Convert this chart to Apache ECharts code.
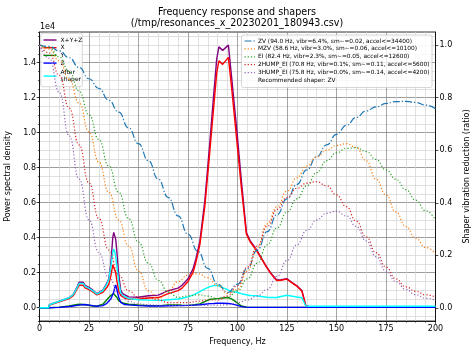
<!DOCTYPE html>
<html><head><meta charset="utf-8">
<script src="https://cdn.jsdelivr.net/npm/echarts@6/dist/echarts.min.js"></script>
<style>html,body{margin:0;padding:0;background:#fff}#c{width:474px;height:355px}</style>
</head><body><div id="c"></div>
<script>
// ---------- data ----------
const titleLines = ['Frequency response and shapers', '(/tmp/resonances_x_20230201_180943.csv)'];
const psdScaleText = '1e4';

// PSD (units of 1e4)
const psdFreq = [0,4.5,5,10,15,17,19,20,21,22,
 23,25,27,29,30,32,34,35,36,37,
 37.5,38,38.5,39,40,41,42,43,45,50,
 55,60,62,65,70,72,75,77.5,79,81,
 83.5,86,88,89.5,90.6,92.5,95.4,97,99.6,102,
 104.5,106.3,109.7,112,114.8,117,119.8,122,124.9,127,
 130,132.5,134.5,136,150,175,200];
const psdXYZ = [0,0,0.017,0.037,0.057,0.075,0.12,0.145,0.153,0.146,
 0.128,0.116,0.1,0.08,0.077,0.1,0.14,0.165,0.25,0.4,
 0.43,0.425,0.39,0.33,0.19,0.1,0.08,0.07,0.062,0.06,
 0.068,0.072,0.082,0.097,0.112,0.128,0.165,0.22,0.28,0.38,
 0.61,0.94,1.22,1.42,1.49,1.47,1.5,1.32,1.02,0.72,
 0.43,0.385,0.33,0.285,0.232,0.195,0.158,0.16,0.166,0.148,
 0.125,0.098,0.012,0.007,0.006,0.005,0.005];
const psdX = [0,0,0.015,0.034,0.052,0.068,0.108,0.128,0.135,0.128,
 0.113,0.104,0.09,0.073,0.07,0.088,0.115,0.135,0.18,0.245,
 0.255,0.235,0.2,0.16,0.095,0.07,0.062,0.055,0.05,0.048,
 0.055,0.058,0.066,0.08,0.098,0.112,0.15,0.2,0.26,0.36,
 0.58,0.89,1.15,1.34,1.41,1.39,1.43,1.26,0.96,0.68,
 0.42,0.378,0.325,0.282,0.229,0.192,0.155,0.157,0.163,0.146,
 0.123,0.096,0.01,0.006,0.005,0.004,0.004];
const psdY = [0,0,0.001,0.003,0.01,0.014,0.018,0.02,0.02,0.019,
 0.017,0.014,0.01,0.009,0.01,0.02,0.045,0.058,0.07,0.078,
 0.08,0.075,0.07,0.06,0.04,0.032,0.027,0.024,0.02,0.015,
 0.012,0.012,0.013,0.015,0.015,0.014,0.013,0.015,0.018,0.022,
 0.035,0.048,0.05,0.052,0.053,0.055,0.058,0.05,0.03,0.01,
 0.003,0.002,0.002,0.002,0.002,0.002,0.002,0.002,0.002,0.002,
 0.002,0.002,0.002,0.002,0.002,0.002,0.002];
const psdZ = [0,0,0.001,0.002,0.007,0.01,0.013,0.015,0.016,0.017,
 0.018,0.015,0.011,0.008,0.008,0.012,0.025,0.035,0.05,0.075,
 0.09,0.115,0.13,0.12,0.06,0.03,0.022,0.018,0.016,0.012,
 0.01,0.01,0.01,0.011,0.012,0.012,0.013,0.014,0.015,0.017,
 0.02,0.023,0.024,0.025,0.025,0.025,0.024,0.022,0.015,0.006,
 0.003,0.002,0.002,0.002,0.002,0.002,0.002,0.002,0.002,0.002,
 0.002,0.002,0.002,0.002,0.002,0.002,0.002];
const psdAfter = [0,0,0.017,0.037,0.057,0.074,0.115,0.138,0.145,0.139,
 0.122,0.111,0.096,0.078,0.075,0.098,0.135,0.16,0.23,0.315,
 0.335,0.32,0.29,0.245,0.15,0.085,0.07,0.062,0.052,0.045,
 0.043,0.042,0.042,0.045,0.05,0.054,0.062,0.072,0.08,0.092,
 0.108,0.12,0.126,0.127,0.125,0.115,0.1,0.094,0.088,0.08,
 0.074,0.07,0.068,0.064,0.06,0.058,0.058,0.064,0.071,0.067,
 0.061,0.057,0.01,0.008,0.008,0.008,0.008];

// Shaper vibration reduction ratio
const shaperFreq = [0,5,10,15,20,25,30,35,40,45,50,55,60,65,70,75,80,85,90,95,100,
 105,110,115,120,125,130,135,140,145,150,155,160,165,170,175,180,185,190,195,200];
const zvVals = [1.0,0.995,0.978,0.952,0.915,0.872,0.835,0.79,0.745,0.685,0.625,0.56,0.49,0.42,0.35,0.28,0.215,0.15,0.09,0.058,0.09,
 0.15,0.22,0.29,0.355,0.415,0.47,0.525,0.575,0.62,0.66,0.695,0.725,0.75,0.765,0.778,0.785,0.786,0.782,0.772,0.758];
const mzvVals = [1.0,0.985,0.94,0.87,0.78,0.67,0.555,0.44,0.335,0.235,0.14,0.065,0.035,0.065,0.1,0.125,0.13,0.115,0.085,0.055,0.07,
 0.14,0.23,0.32,0.385,0.445,0.495,0.54,0.575,0.6,0.618,0.625,0.61,0.56,0.49,0.43,0.365,0.31,0.265,0.23,0.206];
const eiVals = [1.0,0.99,0.955,0.9,0.825,0.735,0.64,0.54,0.44,0.34,0.25,0.17,0.105,0.06,0.04,0.045,0.05,0.045,0.035,0.04,0.065,
 0.11,0.17,0.24,0.305,0.365,0.415,0.465,0.515,0.56,0.59,0.607,0.61,0.595,0.565,0.525,0.49,0.45,0.41,0.37,0.333];
const hump2Vals = [1.0,0.97,0.885,0.76,0.62,0.475,0.34,0.22,0.125,0.065,0.04,0.04,0.03,0.02,0.02,0.02,0.025,0.03,0.03,0.045,0.085,
 0.155,0.235,0.31,0.375,0.42,0.455,0.475,0.48,0.465,0.43,0.385,0.33,0.27,0.21,0.155,0.11,0.08,0.063,0.05,0.041];
const hump3Vals = [1.0,0.95,0.82,0.655,0.49,0.335,0.21,0.115,0.055,0.025,0.015,0.012,0.01,0.01,0.01,0.01,0.01,0.01,0.01,0.012,0.02,
 0.03,0.045,0.07,0.12,0.18,0.24,0.295,0.335,0.36,0.368,0.35,0.31,0.255,0.195,0.14,0.1,0.07,0.05,0.037,0.029];

const psdNames = ['X+Y+Z', 'X', 'Y', 'Z', 'After\nshaper'];
const psdColors = ['#800080', '#ff0000', '#008000', '#0000ff', '#00ffff'];
const shaperNames = [
 'ZV (94.0 Hz, vibr=6.4%, sm~=0.02, accel<=34400)',
 'MZV (58.6 Hz, vibr=3.0%, sm~=0.06, accel<=10100)',
 'EI (82.4 Hz, vibr=2.3%, sm~=0.05, accel<=12600)',
 '2HUMP_EI (70.8 Hz, vibr=0.1%, sm~=0.11, accel<=5600)',
 '3HUMP_EI (75.8 Hz, vibr=0.0%, sm~=0.14, accel<=4200)'
];
const shaperColors = ['#1f77b4', '#ff7f0e', '#2ca02c', '#d62728', '#9467bd'];
const recommendedText = 'Recommended shaper: ZV';
const xLabel = 'Frequency, Hz';
const yLeftLabel = 'Power spectral density';
const yRightLabel = 'Shaper vibration reduction (ratio)';

// ---------- chart ----------
const FONT = 'DejaVu Sans';
const pairs = (fx, vy) => fx.map((f, i) => [f, vy[i]]);
const psdSeriesData = [psdXYZ, psdX, psdY, psdZ, psdAfter];
const shaperSeriesData = [zvVals, mzvVals, eiVals, hump2Vals, hump3Vals];
const DASHDOT = [7, 2, 1.3, 2], DOTTED = [1.2, 2];

const series = [];
psdSeriesData.forEach((arr, i) => {
  series.push({
    name: psdNames[i], type: 'line', xAxisIndex: 0, yAxisIndex: 1,
    data: pairs(psdFreq, arr), symbol: 'none', showSymbol: false, smooth: false,
    silent: true, z: 2,
    lineStyle: {color: psdColors[i], width: 1.4}
  });
});
shaperSeriesData.forEach((arr, i) => {
  series.push({
    name: shaperNames[i], type: 'line', xAxisIndex: 0, yAxisIndex: 2,
    data: pairs(shaperFreq, arr), symbol: 'none', showSymbol: false, smooth: true,
    smoothMonotone: 'x', silent: true, z: 3,
    lineStyle: {color: shaperColors[i], width: 1.2, type: i === 0 ? DASHDOT : DOTTED}
  });
});

// ---------- legends (graphic) ----------
const graphics = [];
// left legend (below shaper curves, like matplotlib's twin axes)
graphics.push({type: 'rect', z: 2, silent: true,
  shape: {x: 40.8, y: 33.2, width: 41.5, height: 53.5, r: 2},
  style: {fill: 'rgba(255,255,255,0.8)', stroke: '#cccccc', lineWidth: 0.8}});
const leftRows = [40, 47.7, 55.4, 63.1, 76.1];
psdNames.forEach((n, i) => {
  const y = leftRows[i];
  graphics.push({type: 'line', z: 2, silent: true, shape: {x1: 43.5, y1: y, x2: 56.5, y2: y},
    style: {stroke: psdColors[i], lineWidth: 1.4}});
  graphics.push({type: 'text', z: 2, silent: true, x: 60.5, y: y,
    style: {text: n, font: '6px "DejaVu Sans"', fill: '#000', verticalAlign: 'middle', align: 'left', lineHeight: 7.6}});
});
// right legend
graphics.push({type: 'rect', z: 10, silent: true,
  shape: {x: 241.5, y: 35, width: 190.5, height: 52.5, r: 2},
  style: {fill: 'rgba(255,255,255,0.8)', stroke: '#cccccc', lineWidth: 0.8}});
const rightRows = [41, 48.9, 56.8, 64.7, 72.6, 80.5];
const rightFont = '5.85px "DejaVu Sans"';
shaperNames.forEach((n, i) => {
  const y = rightRows[i];
  graphics.push({type: 'line', z: 10, silent: true, shape: {x1: 244.5, y1: y, x2: 255, y2: y},
    style: {stroke: shaperColors[i], lineWidth: 1.2, lineDash: i === 0 ? DASHDOT : DOTTED}});
  graphics.push({type: 'text', z: 10, silent: true, x: 258, y: y,
    style: {text: n, font: rightFont, fill: '#000', verticalAlign: 'middle', align: 'left'}});
});
graphics.push({type: 'text', z: 10, silent: true, x: 258, y: rightRows[5],
  style: {text: recommendedText, font: rightFont, fill: '#000', verticalAlign: 'middle', align: 'left'}});
graphics.push({type: 'text', z: 10, silent: true, x: 40, y: 22.5,
  style: {text: psdScaleText, font: '8px "DejaVu Sans"', fill: '#000'}});

const axisText = {fontFamily: FONT, fontSize: 8, color: '#000'};
const tickFmt = v => (Math.abs(v * 5 - Math.round(v * 5)) < 1e-6 ? v.toFixed(1) : '');
const chart = echarts.init(document.getElementById('c'), null, {renderer: 'canvas', width: 474, height: 355});
chart.setOption({
  animation: false,
  backgroundColor: '#ffffff',
  textStyle: {fontFamily: FONT},
  title: {text: titleLines.join('\n'), left: 'center', top: 7, padding: 0,
    textStyle: {fontFamily: FONT, fontSize: 9.6, fontWeight: 'normal', color: '#000', lineHeight: 11.3}},
  grid: {left: 39.5, top: 32, width: 396, height: 289, show: true, borderColor: '#000', borderWidth: 0.8,
    backgroundColor: 'rgba(0,0,0,0)', containLabel: false, outerBoundsMode: 'none'},
  xAxis: [{
    type: 'value', min: 0, max: 200, interval: 25, position: 'bottom', z: 1,
    axisLine: {show: true, onZero: false, lineStyle: {color: '#000', width: 0.8}},
    axisTick: {show: true, inside: false, length: 2.9, lineStyle: {color: '#000', width: 0.7}},
    minorTick: {show: true, splitNumber: 5, length: 1.6, lineStyle: {color: '#000', width: 0.6}},
    axisLabel: Object.assign({margin: 4}, axisText),
    splitLine: {show: true, lineStyle: {color: '#808080', width: 0.7}},
    minorSplitLine: {show: true, lineStyle: {color: '#d3d3d3', width: 0.7}},
    name: xLabel, nameLocation: 'middle', nameGap: 17, nameTextStyle: axisText
  }],
  yAxis: [
    { // minor grid of left axis
      type: 'value', position: 'left', min: -0.076, max: 1.575, minInterval: 0.05, maxInterval: 0.05, splitNumber: 33, z: 0,
      axisLine: {show: false}, axisLabel: {show: false},
      axisTick: {show: true, length: 1.6, lineStyle: {color: '#000', width: 0.6}},
      splitLine: {show: true, lineStyle: {color: '#d3d3d3', width: 0.7}}
    },
    { // major left axis
      type: 'value', position: 'left', min: -0.076, max: 1.575, minInterval: 0.2, maxInterval: 0.2, splitNumber: 8, z: 1,
      axisLine: {show: true, onZero: false, lineStyle: {color: '#000', width: 0.8}},
      axisTick: {show: true, length: 2.9, lineStyle: {color: '#000', width: 0.7}},
      axisLabel: Object.assign({margin: 3.5, showMinLabel: false, showMaxLabel: false, align: 'right', formatter: tickFmt}, axisText),
      splitLine: {show: true, lineStyle: {color: '#808080', width: 0.7}},
      name: yLeftLabel, nameLocation: 'middle', nameGap: 21.5, nameRotate: 90, nameTextStyle: axisText
    },
    { // right axis
      type: 'value', position: 'right', min: -0.05, max: 1.05, minInterval: 0.2, maxInterval: 0.2, splitNumber: 5, z: 1,
      axisLine: {show: true, onZero: false, lineStyle: {color: '#000', width: 0.8}},
      axisTick: {show: true, length: 2.9, lineStyle: {color: '#000', width: 0.7}},
      axisLabel: Object.assign({margin: 4, showMinLabel: false, showMaxLabel: false, align: 'left', formatter: tickFmt}, axisText),
      splitLine: {show: false},
      name: yRightLabel, nameLocation: 'middle', nameGap: 26.5, nameRotate: 90, nameTextStyle: axisText
    }
  ],
  graphic: graphics,
  series: series
});
</script></body></html>
